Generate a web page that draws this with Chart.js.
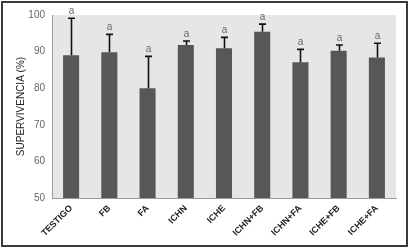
<!DOCTYPE html>
<html><head><meta charset="utf-8">
<script src="https://cdn.jsdelivr.net/npm/chart.js@4/dist/chart.umd.min.js"></script>
<style>html,body{margin:0;padding:0;background:#fff}#w{width:409px;height:248px;position:relative}</style>
</head><body><div id="w"><canvas id="c" width="409" height="248"></canvas></div>
<script>
const categories = ["TESTIGO","FB","FA","ICHN","ICHE","ICHN+FB","ICHN+FA","ICHE+FB","ICHE+FA"];
const survival = [89, 89.8, 80, 91.8, 90.9, 95.4, 87.1, 90.2, 88.4];
const errors = [10.1, 4.9, 8.7, 1.1, 3.0, 2.1, 3.5, 1.6, 3.9];
const letters = ["a","a","a","a","a","a","a","a","a"];
const yTicks = [50,60,70,80,90,100];

const FONT = "'Liberation Sans', Arial, sans-serif";

const bgPlugin = {
  id: 'bg',
  beforeDraw(chart) {
    const {ctx, chartArea: a} = chart;
    ctx.save();
    ctx.fillStyle = '#e6e6e6';
    ctx.fillRect(a.left, a.top, a.right - a.left, a.bottom - a.top);
    ctx.restore();
  },
  afterDraw(chart) {
    const ctx = chart.ctx;
    ctx.save();
    ctx.strokeStyle = '#3a3a3a';
    ctx.lineWidth = 2;
    ctx.strokeRect(2, 2, 405, 244);
    ctx.restore();
  }
};

const errPlugin = {
  id: 'err',
  afterDatasetsDraw(chart) {
    const ctx = chart.ctx;
    const meta = chart.getDatasetMeta(0);
    const y = chart.scales.y;
    ctx.save();
    meta.data.forEach((bar, i) => {
      const x = Math.round(bar.x) + 0.5;
      const yTop = y.getPixelForValue(survival[i]);
      const yErr = y.getPixelForValue(survival[i] + errors[i]);
      ctx.strokeStyle = '#111';
      ctx.lineWidth = 1.6;
      ctx.beginPath();
      ctx.moveTo(x, yTop);
      ctx.lineTo(x, yErr);
      ctx.moveTo(x - 3.5, yErr);
      ctx.lineTo(x + 3.5, yErr);
      ctx.stroke();
      ctx.fillStyle = '#666';
      ctx.font = '10px ' + FONT;
      ctx.textAlign = 'center';
      ctx.textBaseline = 'bottom';
      ctx.fillText(letters[i], x, yErr - 2);
    });
    ctx.restore();
  }
};

new Chart(document.getElementById('c'), {
  type: 'bar',
  data: {
    labels: categories,
    datasets: [{
      data: survival,
      backgroundColor: '#575757',
      borderWidth: 0,
      categoryPercentage: 1,
      barPercentage: 0.42
    }]
  },
  options: {
    responsive: false,
    animation: false,
    events: [],
    layout: { padding: { top: 15, right: 13, bottom: 4, left: 12 } },
    plugins: { legend: { display: false }, tooltip: { enabled: false } },
    scales: {
      x: {
        grid: { display: false, drawTicks: false },
        border: { color: '#9a9a9a', width: 1 },
        ticks: {
          minRotation: 45, maxRotation: 45, autoSkip: false, padding: 5,
          color: '#222',
          font: { family: FONT, size: 9, weight: 'bold' }
        },
        afterFit(s) { s.height = 46; }
      },
      y: {
        min: 50, max: 100,
        afterBuildTicks(s) { s.ticks = yTicks.map(v => ({ value: v })); },
        grid: { display: false, drawOnChartArea: false, drawTicks: true, tickLength: 5, tickColor: '#9a9a9a' },
        border: { color: '#9a9a9a', width: 1 },
        ticks: { color: '#666', padding: 2, font: { family: FONT, size: 10 } },
        title: {
          display: true, text: 'SUPERVIVENCIA (%)', color: '#222',
          font: { family: FONT, size: 10 }, padding: { top: 3, bottom: 4 }
        },
        afterFit(s) { s.width = 40; }
      }
    }
  },
  plugins: [bgPlugin, errPlugin]
});
</script>
</body></html>
